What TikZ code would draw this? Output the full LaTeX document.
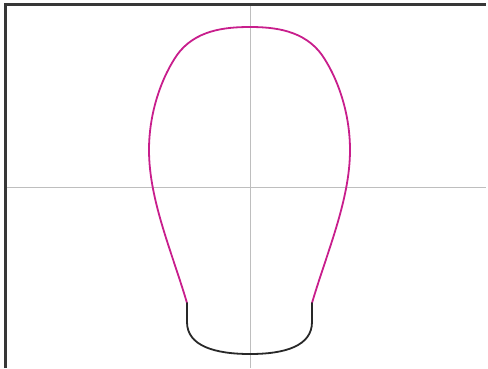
\documentclass[tikz,border=0pt]{standalone}
\usepackage{xcolor}
\usepackage{tikz}
\definecolor{headmagenta}{RGB}{200,30,140}
\definecolor{framedark}{RGB}{55,55,55}
\definecolor{guidegray}{RGB}{190,190,190}
\definecolor{chinblack}{RGB}{40,40,40}

\begin{document}
\begin{tikzpicture}[
  x=1pt, y=-1pt,
  frame/.style={draw=framedark, line width=2.4pt},
  guide/.style={draw=guidegray, line width=1pt},
  head/.style={draw=headmagenta, line width=1.8pt, line join=round},
  chin/.style={draw=chinblack, line width=1.8pt, line cap=round}
]
\useasboundingbox (0,0) rectangle (488,368);

% guide cross
\draw[guide] (6,187) -- (486,187);
\draw[guide] (250,5) -- (250,368);

% frame (top and left)
\draw[frame] (5.5,368) -- (5.5,4.5) -- (486,4.5);

% end points of the outline
\coordinate (jawL) at (187,303);
\coordinate (jawR) at (312,303);
\coordinate (crown) at (250,27);

% head outline
\draw[head] (jawL)
  .. controls (172,252) and (149,200) .. (149,150)
  .. controls (149,115) and (160,80) .. (177,55)
  .. controls (195,30) and (225,27) .. (crown)
  .. controls (274,27) and (304,30) .. (322,55)
  .. controls (339,80) and (350,115) .. (350,150)
  .. controls (350,200) and (327,252) .. (jawR);

% chin
\draw[chin] (jawL) -- (187,322)
  .. controls (187,346) and (215,354) .. (250,354)
  .. controls (285,354) and (312,346) .. (312,322) -- (jawR);
\end{tikzpicture}
\end{document}
